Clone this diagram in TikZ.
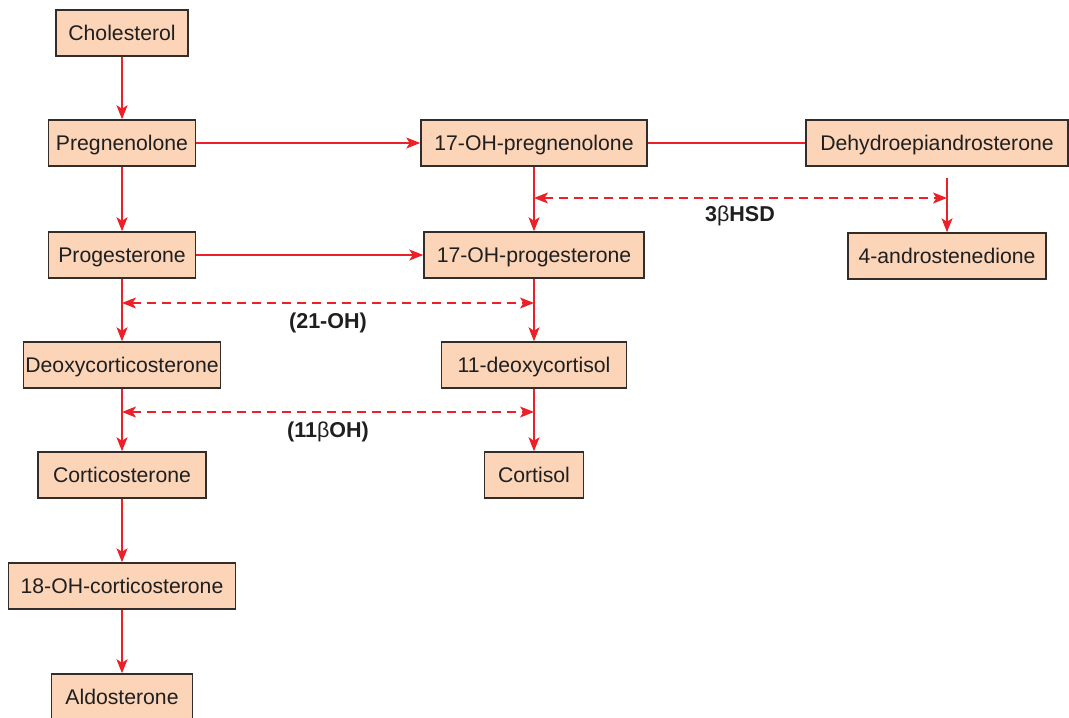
\documentclass[tikz,border=0pt]{standalone}
\usepackage{fontspec}
\setmainfont{Liberation Sans}
\usetikzlibrary{arrows.meta}
\definecolor{boxfill}{RGB}{252,212,184}
\definecolor{boxline}{RGB}{50,45,43}
\definecolor{flow}{RGB}{236,32,40}
\tikzset{
  tip/.tip={Stealth[length=14pt,width=11pt,inset=3.5pt]},
  steroid/.style={draw=boxline, line width=1.5pt, fill=boxfill, minimum height=46pt,
    inner sep=0pt, text height=15.2pt, text depth=0pt,
    font=\fontsize{21.2}{25}\selectfont, text=black!88},
  conv/.style={draw=flow, line width=1.3pt, -tip},
  link/.style={draw=flow, line width=1.3pt},
  enzyme/.style={draw=flow, line width=1.3pt, dash pattern=on 9pt off 6pt, tip-tip},
  enzlabel/.style={font=\fontsize{21.5}{25}\selectfont\bfseries, text=black!88}
}
\begin{document}
\begin{tikzpicture}[x=1pt,y=-1pt]
\useasboundingbox (0,0) rectangle (1069,718);
\clip (0,0) rectangle (1069,718);
\fill[white] (0,0) rectangle (1069,718);

% steroid boxes
\node[steroid, minimum width=132pt] (chol)   at (122,33)    {Cholesterol};
\node[steroid, minimum width=147pt] (preg)   at (122,143)   {Pregnenolone};
\node[steroid, minimum width=226pt] (ohpreg) at (534,143)   {17-OH-pregnenolone};
\node[steroid, minimum width=262pt] (dhea)   at (937,143)   {Dehydroepiandrosterone};
\node[steroid, minimum width=147pt] (prog)   at (122,255)   {Progesterone};
\node[steroid, minimum width=220pt] (ohprog) at (534,255)   {17-OH-progesterone};
\node[steroid, minimum width=198pt] (andro)  at (947,256)   {4-androstenedione};
\node[steroid, minimum width=197pt] (doc)    at (122,365)   {Deoxycorticosterone};
\node[steroid, minimum width=185pt] (dcort)  at (534,365)   {11-deoxycortisol};
\node[steroid, minimum width=168pt] (cortico) at (122,475)  {Corticosterone};
\node[steroid, minimum width=99pt]  (cortisol) at (534,475) {Cortisol};
\node[steroid, minimum width=227pt] (ohcort) at (122,586)   {18-OH-corticosterone};
\node[steroid, minimum width=141pt] (aldo)   at (122,697)   {Aldosterone};

% conversions
\draw[conv] (chol) -- (preg);
\draw[conv] (preg) -- (ohpreg);
\draw[link] (ohpreg) -- (dhea);
\draw[conv] (preg) -- (prog);
\draw[conv] (prog) -- (ohprog);
\draw[conv] (ohpreg) -- (ohprog);
\coordinate (dheaout) at (947,178);
\draw[conv] (dheaout) -- (andro);
\draw[conv] (prog) -- (doc);
\draw[conv] (ohprog) -- (dcort);
\draw[conv] (doc) -- (cortico);
\draw[conv] (dcort) -- (cortisol);
\draw[conv] (cortico) -- (ohcort);
\draw[conv] (ohcort) -- (aldo);

% enzyme spans
\coordinate (hsdL) at (534,198);
\coordinate (hsdR) at (947,198);
\coordinate (ohL) at (122,303);
\coordinate (ohR) at (534,303);
\coordinate (betaL) at (122,412);
\coordinate (betaR) at (534,412);
\draw[enzyme] (hsdL) -- (hsdR);
\draw[enzyme] (ohL) -- (ohR);
\draw[enzyme] (betaL) -- (betaR);

\node[enzlabel] (hsd) at (740,216) {3{\mdseries β}HSD};
\node[enzlabel] (oh21) at (328,323) {(21-OH)};
\node[enzlabel] (oh11) at (328,432) {(11{\mdseries β}OH)};
\end{tikzpicture}
\end{document}
